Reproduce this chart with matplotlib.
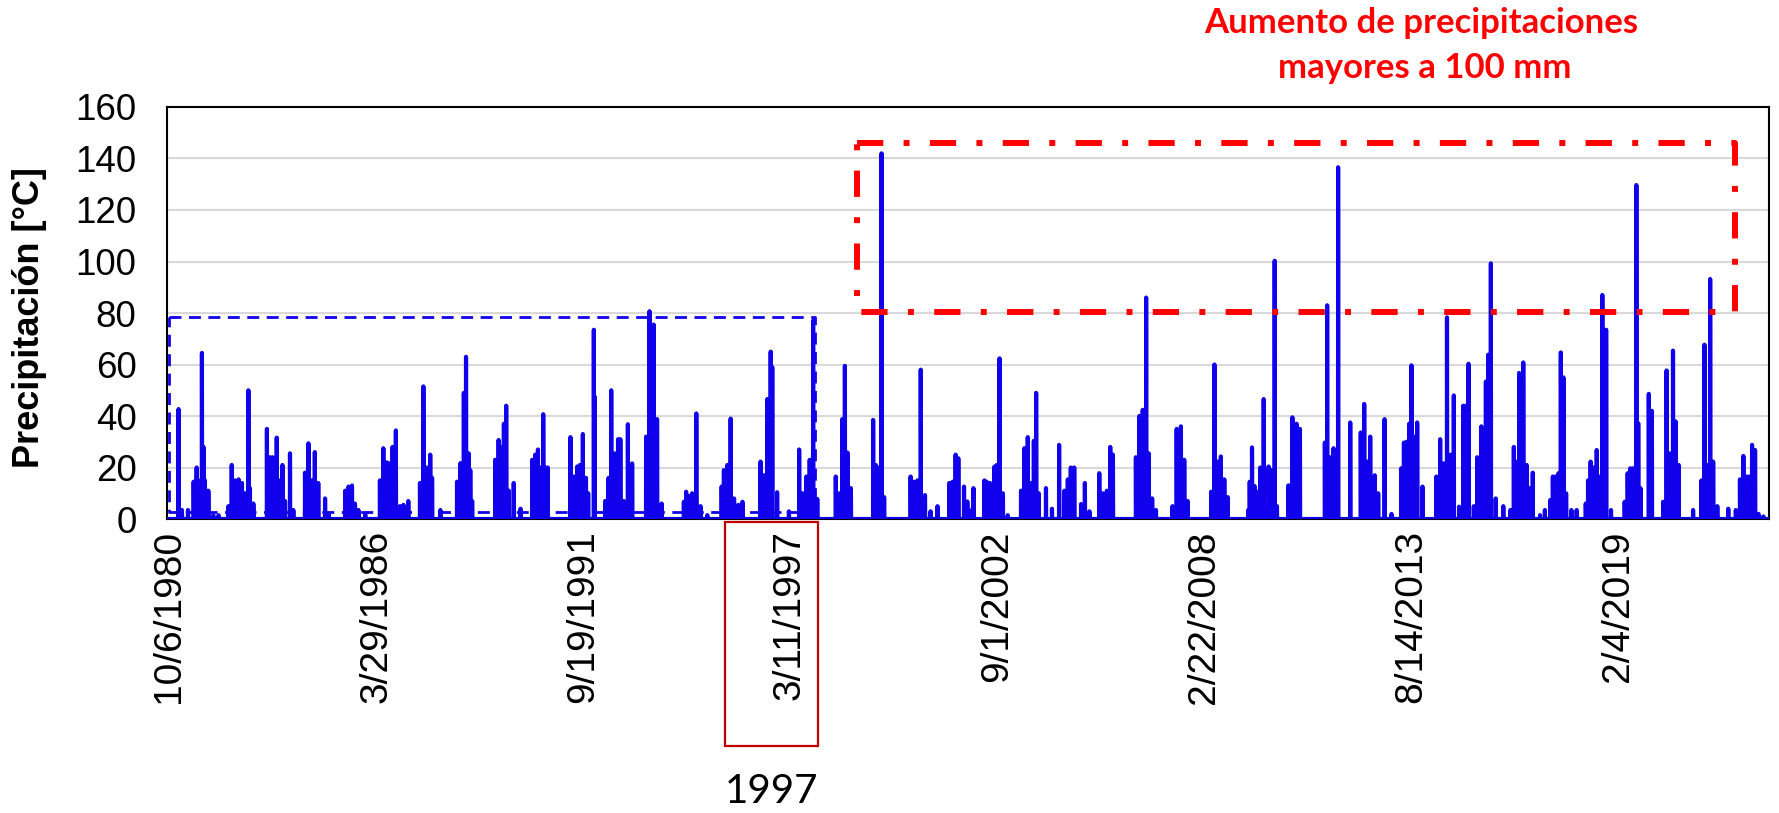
import matplotlib
matplotlib.use("Agg")
import matplotlib.pyplot as plt
from matplotlib.patches import Rectangle
import pandas as pd
import numpy as np

# %%
# Lluvias diarias (fecha en anio decimal, mm)
years_80s = [1981.01, 1981.10, 1981.26, 1981.41, 1981.49, 1981.54, 1981.63, 1981.67, 1981.71, 1981.80, 1981.93,
             1982.07, 1982.33, 1982.42, 1982.51, 1982.60, 1982.69, 1982.77, 1982.86, 1982.90, 1982.99,
             1983.35, 1983.43, 1983.50, 1983.61, 1983.70, 1983.76, 1983.83, 1983.96, 1984.05,
             1984.36, 1984.45, 1984.54, 1984.62, 1984.71, 1984.89, 1984.98,
             1985.42, 1985.51, 1985.60, 1985.68, 1985.77, 1985.95,
             1986.34, 1986.43, 1986.52, 1986.58, 1986.67, 1986.76, 1986.87, 1986.96, 1987.09,
             1987.40, 1987.49, 1987.58, 1987.67, 1987.72, 1987.94,
             1988.38, 1988.47, 1988.56, 1988.62, 1988.69, 1988.73, 1988.78,
             1989.39, 1989.48, 1989.57, 1989.62, 1989.68, 1989.75, 1989.88]
mm_80s = [42.7, 3.5, 3.5, 14.5, 20, 15, 64.5, 28, 15, 11, 1.5,
          1.5, 5, 21, 15, 15.4, 14, 10, 50, 12, 6,
          35, 24, 24, 31.6, 15, 21, 7, 25.5, 3.5,
          18, 29.4, 15, 26, 14, 8, 2,
          11, 12.6, 13, 6, 3.5, 2,
          15, 27.5, 22, 21.6, 28, 34.4, 5, 5.5, 7,
          14, 51.5, 20, 25, 16, 3.5,
          14.5, 21.7, 49, 63, 25.5, 19, 7,
          23, 30.7, 28, 37, 44, 11, 14]

years_90s = [1990.06, 1990.37, 1990.45, 1990.52, 1990.58, 1990.66, 1990.72, 1990.78,
             1991.38, 1991.47, 1991.56, 1991.63, 1991.71, 1991.79, 1991.85, 1992.00, 1992.02,
             1992.30, 1992.39, 1992.46, 1992.55, 1992.64, 1992.70, 1992.79, 1992.90, 1993.01,
             1993.38, 1993.47, 1993.52, 1993.58, 1993.67, 1993.79,
             1994.38, 1994.44, 1994.51, 1994.60, 1994.71, 1994.82, 1995.00,
             1995.38, 1995.44, 1995.53, 1995.62, 1995.71, 1995.82, 1995.93,
             1996.41, 1996.50, 1996.59, 1996.68, 1996.72, 1996.85, 1997.16,
             1997.43, 1997.52, 1997.62, 1997.71, 1997.80, 1997.91,
             1998.40, 1998.49, 1998.57, 1998.64, 1998.71, 1998.80,
             1999.39, 1999.46, 1999.55, 1999.61, 1999.68]
mm_90s = [4, 23, 25, 27, 20, 40.7, 20, 20,
          31.8, 16.5, 20.4, 21, 33, 16, 10, 73.5, 47.6,
          7, 16, 50, 25.5, 31, 31, 7, 36.8, 21.6,
          32, 80.7, 27, 75.5, 38.8, 6,
          6.7, 10.6, 9, 10, 41, 5, 1.5,
          12.6, 19, 21, 39, 8, 5.5, 6.7,
          22.3, 17, 46.6, 65, 59, 10.4, 3,
          27, 10, 16.5, 23, 77, 7.8,
          16.5, 10, 38.8, 59.5, 25.8, 12,
          38.5, 21, 20, 142, 8.5]

years_00s = [2000.38, 2000.47, 2000.56, 2000.65, 2000.76, 2000.91, 2001.09,
             2001.40, 2001.49, 2001.57, 2001.64, 2001.79, 2001.88, 2001.93, 2002.04,
             2002.33, 2002.39, 2002.48, 2002.60, 2002.66, 2002.73, 2002.82, 2002.95,
             2003.30, 2003.39, 2003.48, 2003.57, 2003.64, 2003.70, 2003.77, 2003.96, 2004.12,
             2004.31, 2004.45, 2004.54, 2004.62, 2004.71, 2004.89, 2004.99, 2005.11,
             2005.37, 2005.46, 2005.57, 2005.66, 2005.73,
             2006.34, 2006.43, 2006.52, 2006.61, 2006.68, 2006.77, 2006.87,
             2007.31, 2007.42, 2007.53, 2007.62, 2007.71,
             2008.33, 2008.42, 2008.51, 2008.59, 2008.68, 2008.77,
             2009.31, 2009.35, 2009.41, 2009.48, 2009.57, 2009.63, 2009.72, 2009.79, 2009.85, 2009.92]
mm_00s = [16.5, 14.5, 15, 58, 9.3, 3, 5,
          14, 14.5, 25, 23.6, 12.6, 6.8, 3.5, 12,
          15, 14.5, 14, 20.4, 21, 62.4, 10, 1.5,
          11, 27.5, 31.8, 14, 30.4, 49, 10, 12, 4,
          28.8, 11, 15.4, 20, 20, 5.8, 14, 3,
          17.8, 10, 11, 28, 25,
          24, 40, 42.4, 86, 25.5, 8, 3.5,
          5, 35, 36, 23, 7,
          10.6, 60, 22.3, 24.3, 15.4, 8.5,
          3.5, 14.5, 27.8, 12.8, 10.6, 20, 46.6, 3.5, 20.4, 19]

years_10s = [2010.01, 2010.07, 2010.37, 2010.41, 2010.48, 2010.59, 2010.68,
             2011.34, 2011.40, 2011.47, 2011.57, 2011.69,
             2012.01, 2012.29, 2012.38, 2012.46, 2012.54, 2012.66, 2012.75, 2012.92, 2013.10,
             2013.36, 2013.43, 2013.50, 2013.57, 2013.63, 2013.69, 2013.78, 2013.92,
             2014.29, 2014.33, 2014.39, 2014.48, 2014.57, 2014.66, 2014.75, 2014.89,
             2015.00, 2015.06, 2015.14, 2015.28, 2015.37, 2015.48, 2015.52, 2015.60, 2015.66, 2015.73, 2015.86,
             2016.06, 2016.25, 2016.34, 2016.43, 2016.48, 2016.59, 2016.68, 2016.77, 2016.84,
             2017.03, 2017.16, 2017.30, 2017.37, 2017.43, 2017.52, 2017.58, 2017.65, 2017.72, 2017.86, 2018.00,
             2018.24, 2018.30, 2018.37, 2018.46, 2018.53, 2018.61, 2018.68, 2018.78, 2018.91,
             2019.27, 2019.35, 2019.42, 2019.49, 2019.58, 2019.63, 2019.69, 2019.91, 2019.99]
mm_10s = [100.3, 5, 13, 13, 39.5, 37, 35,
          29.7, 83, 24, 27.5, 136.6,
          37.5, 33.6, 44.7, 22.3, 32, 17, 10, 38.8, 2,
          19.7, 29.7, 30, 37, 59.7, 32, 37.5, 12.6,
          16.5, 16, 31, 21.6, 78.3, 25, 48, 4.8,
          44, 44, 60.3, 5, 24, 36, 25, 53.4, 63.8, 99.3, 8,
          5, 3.5, 28, 22.3, 56.7, 60.8, 21, 12, 18,
          1.5, 3.5, 7.4, 16.5, 16.5, 17.8, 64.7, 55, 10, 3.5, 3.5,
          6, 15, 22.3, 20, 26.8, 16.5, 87, 73.5, 3.5,
          6.7, 17.8, 19.7, 19.7, 129.7, 37.2, 12, 48.6, 42]

years_20s = [2020.29, 2020.38, 2020.46, 2020.55, 2020.62, 2020.70,
             2021.08, 2021.30, 2021.38, 2021.45, 2021.53, 2021.61, 2021.72,
             2022.01, 2022.21, 2022.32, 2022.41, 2022.50, 2022.57, 2022.64, 2022.72, 2022.81, 2022.94]
mm_20s = [6.7, 57.7, 25.5, 65.4, 37.9, 21,
          3.5, 15, 67.7, 21, 93.2, 22.3, 5,
          4, 3.5, 15.4, 24.5, 16.5, 16.5, 28.8, 26.8, 2, 1]

# fechas de las etiquetas del eje x (cada 2000 dias)
tick_dates = pd.date_range('1980-10-06', periods=8, freq='2000D')

# %%
def year_to_date(y):
    y0 = int(y)
    return pd.Timestamp(f'{y0}-01-01') + pd.Timedelta(days=round((y - y0) * 365.25))

start, end = pd.Timestamp('1980-09-16'), pd.Timestamp('2023-02-03')
days = pd.date_range(start, end, freq='D')
serie = pd.Series(0.0, index=days)

all_years = years_80s + years_90s + years_00s + years_10s + years_20s
all_mm = mm_80s + mm_90s + mm_00s + mm_10s + mm_20s
for y, v in zip(all_years, all_mm):
    d = year_to_date(y)
    serie[d] = max(serie[d], v)

# %%
plt.rcParams['font.family'] = ['Liberation Sans', 'DejaVu Sans']

fig = plt.figure(figsize=(17.79, 8.13), dpi=100)
ax = fig.add_axes([0.0939, 0.3616, 0.9005, 0.5068])

azul = '#1000EC'
ax.plot(serie.index, serie.values, color=azul, lw=3, zorder=3, solid_joinstyle='round')

# caja azul (antes de 1998)
bx = [year_to_date(1980.77), year_to_date(1997.85)]
by = [2.6, 78.6]
ax.plot([bx[0], bx[1], bx[1], bx[0], bx[0]], [by[1], by[1], by[0], by[0], by[1]],
        color=azul, lw=2, linestyle=(0, (4.3, 2.7)), zorder=2)

# caja roja (despues de 1998)
rx = [year_to_date(1998.96), year_to_date(2022.19)]
ry = [80.5, 146]
ax.plot([rx[0], rx[1], rx[1], rx[0], rx[0]], [ry[1], ry[1], ry[0], ry[0], ry[1]],
        color='#FF0000', lw=4.3, linestyle=(0, (4.4, 3.4, 1, 3.4)),
        dash_capstyle='butt', dash_joinstyle='round', zorder=4)

ax.set_xlim(start, end)
ax.set_ylim(0, 160)
ax.set_yticks(np.arange(0, 161, 20))
ax.set_xticks(tick_dates)
ax.set_xticklabels([f'{d.month}/{d.day}/{d.year}' for d in tick_dates], rotation=90, fontsize=28)
ax.tick_params(axis='y', labelsize=26.5, length=0, pad=22)
ax.tick_params(axis='x', length=0, pad=8)
ax.yaxis.grid(True, color='#D9D9D9', lw=1.5)
ax.set_axisbelow(True)
for s in ax.spines.values():
    s.set_color('black')
    s.set_linewidth(1.5)

ax.set_ylabel('Precipitación [°C]', fontsize=26, fontweight='bold', labelpad=14)
ax.yaxis.set_label_coords(-0.075, 0.49)

# recuadro en la etiqueta de 1997
fig.add_artist(Rectangle((0.4075, 0.0824), 0.0523, 0.2756, transform=fig.transFigure,
                         fill=False, edgecolor='#C00000', lw=1.6))
fig.text(0.4334, 0.0260, '1997', fontsize=29, family='Lato', ha='center', va='center')

fig.text(0.799, 0.9717, 'Aumento de precipitaciones', color='#FF0000', fontsize=25,
         family='Lato', fontweight='bold', ha='center', va='center')
fig.text(0.801, 0.9164, 'mayores a 100 mm', color='#FF0000', fontsize=25,
         family='Lato', fontweight='bold', ha='center', va='center')

fig.savefig('out.png', dpi=100)
